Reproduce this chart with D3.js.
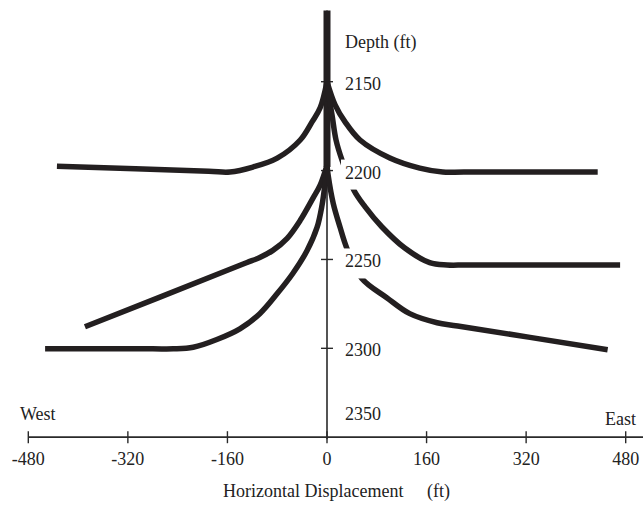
<!DOCTYPE html>
<html>
<head>
<meta charset="utf-8">
<script src="https://cdn.jsdelivr.net/npm/d3@7"></script>
<style>
  body { margin: 0; background: #fff; }
  text { font-family: "Liberation Serif", "Times New Roman", serif; fill: #222; }
</style>
</head>
<body>
<div id="chart"></div>
<script>
var width = 643, height = 507;

// horizontal ticks (ft) and depth ticks (ft)
var xTicks = [-480, -320, -160, 0, 160, 320, 480];
var depthTicks = [2150, 2200, 2250, 2300];
var depthLabels = [2150, 2200, 2250, 2300, 2350];

// vertical wellbore (x = 0), depth from / to
var wellbore = [[0, 2110], [0, 2198]];

// laterals, [horizontal displacement ft, depth ft]
var west1 = [[0, 2150], [-11, 2164.7], [-24, 2172.6], [-43, 2182.8], [-80, 2193], [-119, 2198], [-156, 2200.8], [-190, 2200.4], [-434, 2197.5]];
var east1 = [[0, 2150], [13, 2163], [29, 2172.6], [53, 2182.8], [101, 2192.9], [149, 2198.6], [186, 2200.8], [220, 2200.8], [435, 2200.8]];
var east2 = [[0, 2152], [8, 2168.6], [14.5, 2182.8], [24, 2194], [43, 2210.9], [61, 2220.3], [88, 2231.6], [125, 2243.6], [165, 2251.8], [193, 2253.1], [225, 2253.1], [471, 2253.1]];
var west2 = [[0, 2197], [-11, 2208.2], [-22.5, 2215.5], [-43, 2228], [-64, 2238.1], [-87, 2244.9], [-108, 2248.9], [-128.5, 2251.7], [-160, 2256.1], [-389, 2287.9]];
var west3 = [[0, 2197], [-3, 2207], [-8, 2219.5], [-16, 2232], [-32, 2245], [-55, 2257.9], [-80, 2269.2], [-108, 2280.5], [-140, 2289], [-177, 2295], [-215, 2299.4], [-247, 2300.3], [-280, 2300.3], [-453, 2300.3]];
var east3 = [[0, 2197], [2, 2203], [10, 2218.4], [21, 2231.9], [32, 2243.8], [56, 2260.7], [96, 2271.5], [133, 2280.5], [177, 2285.6], [210, 2287.4], [451, 2300.8]];

var laterals = [west1, east1, east2, west2, west3, east3];

var x = d3.scaleLinear().domain([-480, 480]).range([28.3, 625.7]);
var y = d3.scaleLinear().domain([2150, 2350]).range([81.7, 437.2]);

var svg = d3.select("#chart").append("svg")
  .attr("width", width)
  .attr("height", height);

svg.append("rect").attr("width", width).attr("height", height).attr("fill", "#fff");

var ink = "#231f20";
var axisColor = "#2a2a2a";

// depth axis (thin line along x = 0)
svg.append("line")
  .attr("x1", x(0)).attr("x2", x(0))
  .attr("y1", y(2110)).attr("y2", y(2350) + 2)
  .attr("stroke", axisColor).attr("stroke-width", 1.6);

svg.selectAll(".ytick").data(depthTicks).enter().append("line")
  .attr("class", "ytick")
  .attr("x1", x(0) - 6).attr("x2", x(0) + 6)
  .attr("y1", function(d) { return y(d); })
  .attr("y2", function(d) { return y(d); })
  .attr("stroke", axisColor).attr("stroke-width", 1.4);

// horizontal axis
var xAxis = svg.append("g");
xAxis.append("line")
  .attr("x1", x(-480)).attr("x2", width)
  .attr("y1", y(2350)).attr("y2", y(2350))
  .attr("stroke", axisColor).attr("stroke-width", 1.8);

xAxis.selectAll(".xtick").data(xTicks).enter().append("line")
  .attr("class", "xtick")
  .attr("x1", function(d) { return x(d); })
  .attr("x2", function(d) { return x(d); })
  .attr("y1", y(2350) - 6).attr("y2", y(2350) + 6)
  .attr("stroke", axisColor).attr("stroke-width", 1.4);

xAxis.selectAll(".xlabel").data(xTicks).enter().append("text")
  .attr("class", "xlabel")
  .attr("x", function(d) { return x(d); })
  .attr("y", y(2350) + 28)
  .attr("text-anchor", "middle")
  .style("font-size", "18px")
  .text(function(d) { return d; });

// wells
var line = d3.line()
  .x(function(d) { return x(d[0]); })
  .y(function(d) { return y(d[1]); })
  .curve(d3.curveCatmullRom.alpha(0.5));

svg.append("path")
  .attr("d", d3.line().x(function(d) { return x(d[0]); }).y(function(d) { return y(d[1]); })(wellbore))
  .attr("fill", "none")
  .attr("stroke", ink)
  .attr("stroke-width", 7);

svg.selectAll(".lateral").data(laterals).enter().append("path")
  .attr("class", "lateral")
  .attr("d", line)
  .attr("fill", "none")
  .attr("stroke", ink)
  .attr("stroke-width", 5.5)
  .attr("stroke-linecap", "butt");

// depth labels with a white backing that interrupts the curves
var lab = svg.selectAll(".dlabel").data(depthLabels).enter().append("g").attr("class", "dlabel");
lab.filter(function(d) { return d < 2350; }).append("rect")
  .attr("x", x(0) + 14)
  .attr("y", function(d) { return y(d) - 11; })
  .attr("width", 44)
  .attr("height", 30)
  .attr("fill", "#fff");
lab.append("text")
  .attr("x", x(0) + 18)
  .attr("y", function(d) { return d === 2350 ? y(d) - 17 : y(d) + 8; })
  .style("font-size", "18px")
  .text(function(d) { return d; });

svg.append("text")
  .attr("x", x(0) + 18).attr("y", 48)
  .style("font-size", "18px")
  .text("Depth (ft)");

svg.append("text")
  .attr("x", 20).attr("y", 420)
  .style("font-size", "18px")
  .text("West");

svg.append("text")
  .attr("x", 605).attr("y", 425)
  .style("font-size", "18px")
  .text("East");

svg.append("text")
  .attr("x", 223).attr("y", 497)
  .style("font-size", "18px")
  .text("Horizontal Displacement");

svg.append("text")
  .attr("x", 427).attr("y", 497)
  .style("font-size", "18px")
  .text("(ft)");
</script>
</body>
</html>
